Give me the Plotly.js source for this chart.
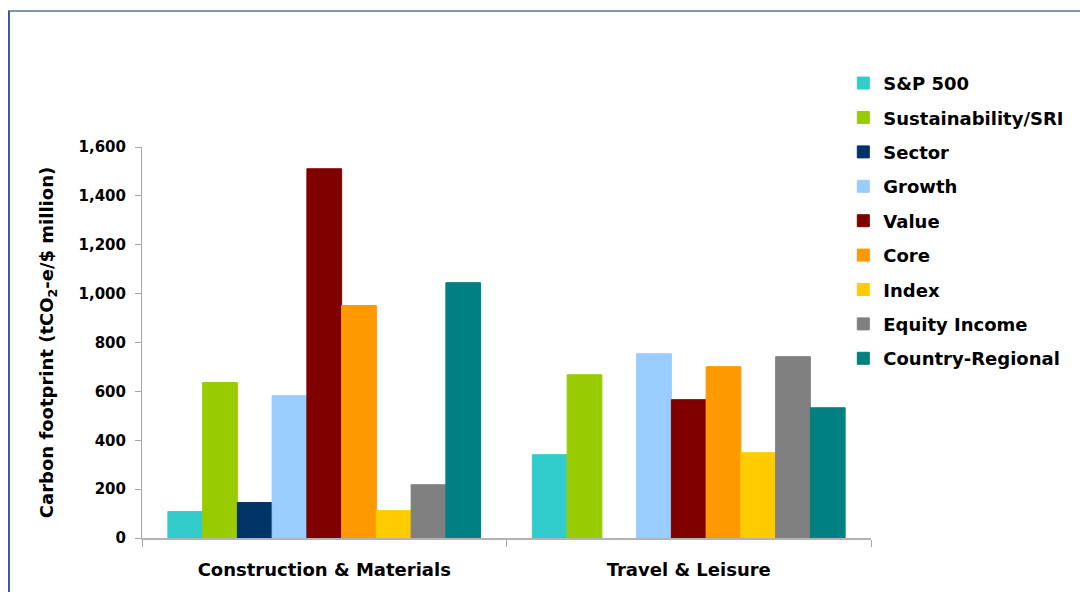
<!DOCTYPE html>
<html>
<head>
<meta charset="utf-8">
<script src="https://cdn.plot.ly/plotly-3.0.1.min.js"></script>
<style>
  html, body { margin: 0; padding: 0; background: #fff; overflow: hidden; }
  #chart { width: 1080px; height: 592px; }
  #frame { position: absolute; left: 8px; top: 10px; width: 1200px; height: 700px;
           border-left: 2px solid #3d5c92; border-top: 2px solid #7f95b0; pointer-events: none; }
</style>
</head>
<body>
<div id="chart"></div>
<div id="frame"></div>
<script>
const categories = ["Construction & Materials", "Travel & Leisure"];
const seriesNames = ["S&P 500", "Sustainability/SRI", "Sector", "Growth", "Value", "Core", "Index", "Equity Income", "Country-Regional"];
const seriesColors = ["#33CCCC", "#99CC00", "#003366", "#99CCFF", "#800000", "#FF9900", "#FFCC00", "#808080", "#008080"];
const sp500 = [108, 341];
const sustainability = [636, 668];
const sector = [145, null];
const growth = [582, 754];
const value = [1511, 566];
const core = [951, 701];
const indexFunds = [112, 349];
const equityIncome = [218, 742];
const countryRegional = [1045, 533];
const yTickVals = [0, 200, 400, 600, 800, 1000, 1200, 1400, 1600];
const yTickText = ["0", "200", "400", "600", "800", "1,000", "1,200", "1,400", "1,600"];

const seriesValues = [sp500, sustainability, sector, growth, value, core, indexFunds, equityIncome, countryRegional];

const traces = seriesNames.map((name, i) => ({
  type: "bar",
  name: name,
  x: categories,
  y: seriesValues[i],
  legendgroup: "g" + i,
  marker: { color: seriesColors[i], line: { color: seriesColors[i], width: 1 } },
  hoverinfo: "none"
}));

const font = { family: "DejaVu Sans", weight: "bold", color: "#000" };

const layout = {
  width: 1080,
  height: 592,
  margin: { l: 142, r: 209, t: 147, b: 54, autoexpand: false },
  paper_bgcolor: "#fff",
  plot_bgcolor: "#fff",
  barmode: "group",
  bargap: 0.142,
  bargroupgap: 0,
  showlegend: true,
  legend: {
    x: 0.962, xanchor: "left",
    y: 1.21, yanchor: "top",
    traceorder: "grouped",
    tracegroupgap: 8,
    itemwidth: 30,
    maxheight: 560,
    font: Object.assign({}, font, { size: 18 }),
    bgcolor: "rgba(0,0,0,0)"
  },
  xaxis: {
    type: "category",
    range: [-0.5, 1.5],
    showline: true,
    linecolor: "#b3b3b3",
    linewidth: 1.5,
    ticks: "outside",
    tickson: "boundaries",
    ticklen: 7,
    tickcolor: "#a6a6a6",
    tickwidth: 1,
    showgrid: false,
    zeroline: false,
    ticklabelstandoff: 15,
    tickfont: Object.assign({}, font, { size: 18 }),
    fixedrange: true
  },
  yaxis: {
    range: [0, 1600],
    showline: true,
    linecolor: "#a6a6a6",
    linewidth: 1,
    ticks: "outside",
    ticklen: 6,
    tickcolor: "#a6a6a6",
    tickvals: yTickVals,
    ticktext: yTickText,
    showgrid: false,
    zeroline: false,
    ticklabelstandoff: 6,
    tickfont: Object.assign({}, font, { size: 15 }),
    title: {
      text: "Carbon footprint (tCO<sub>2</sub>-e/$ million)",
      font: Object.assign({}, font, { size: 18 }),
      standoff: 20
    },
    fixedrange: true
  }
};

Plotly.newPlot("chart", traces, layout, { displayModeBar: false, staticPlot: true });
</script>
</body>
</html>
